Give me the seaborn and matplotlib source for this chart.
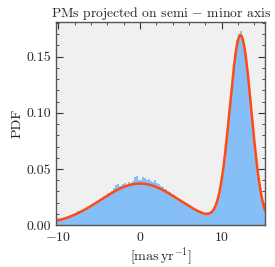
import numpy as np
import pandas as pd
import matplotlib
matplotlib.use("Agg")
import matplotlib.pyplot as plt
import seaborn as sns
from matplotlib.ticker import MultipleLocator, FormatStrFormatter

# histogram of projected PMs (bin width 0.25 mas/yr, from -10.25 to 15.25)
bin_lo, bin_hi = -10.25, 15.25
hist_pdf = [
    0.0042, 0.0043, 0.0052, 0.0056, 0.0060, 0.0070, 0.0072, 0.0083, 0.0090, 0.0098,
    0.0128, 0.0110, 0.0121, 0.0135, 0.0141, 0.0156, 0.0166, 0.0178, 0.0192, 0.0205,
    0.0214, 0.0229, 0.0241, 0.0258, 0.0262, 0.0284, 0.0290, 0.0305, 0.0330, 0.0355,
    0.0362, 0.0350, 0.0366, 0.0372, 0.0358, 0.0384, 0.0371, 0.0392, 0.0428, 0.0436,
    0.0405, 0.0398, 0.0430, 0.0415, 0.0402, 0.0412, 0.0395, 0.0380, 0.0402, 0.0375,
    0.0362, 0.0352, 0.0336, 0.0320, 0.0306, 0.0292, 0.0276, 0.0268, 0.0250, 0.0240,
    0.0225, 0.0212, 0.0200, 0.0184, 0.0176, 0.0162, 0.0150, 0.0144, 0.0130, 0.0122,
    0.0112, 0.0108, 0.0104, 0.0110, 0.0114, 0.0118, 0.0136, 0.0172, 0.0210, 0.0262,
    0.0340, 0.0445, 0.0590, 0.0770, 0.0955, 0.1160, 0.1345, 0.1520, 0.1650, 0.1700,
    0.1725, 0.1660, 0.1550, 0.1410, 0.1230, 0.1030, 0.0830, 0.0650, 0.0500, 0.0365,
    0.0262, 0.0180,
]

# two-component gaussian model (mean, sigma, weight)
comp_mu = [0.0, 12.3]
comp_sigma = [4.8, 1.32]
comp_weight = [0.445, 0.555]

edges = np.linspace(bin_lo, bin_hi, len(hist_pdf) + 1)
centers = 0.5 * (edges[:-1] + edges[1:])
hist_df = pd.DataFrame({"pm": centers, "pdf": hist_pdf})

xs = np.linspace(-10.25, 15.3, 400)
model = np.zeros_like(xs)
for mu, sg, w in zip(comp_mu, comp_sigma, comp_weight):
    model += w * np.exp(-0.5 * ((xs - mu) / sg) ** 2) / (sg * np.sqrt(2 * np.pi))
model_df = pd.DataFrame({"pm": xs, "pdf": model})

sns.set_style("ticks")
plt.rcParams.update({
    "font.family": "serif",
    "font.serif": ["cmr10"],
    "mathtext.fontset": "cm",
    "axes.formatter.use_mathtext": True,
    "axes.unicode_minus": True,
    "font.size": 10.2,
})

fig = plt.figure(figsize=(2.75, 2.67), dpi=100)
ax = fig.add_axes([0.204, 0.157, 0.76, 0.761])
ax.set_facecolor("#f0f0f0")

sns.histplot(data=hist_df, x="pm", weights="pdf", bins=edges.tolist(), stat="count",
             color="#86bff7", edgecolor="none", alpha=1.0, linewidth=0, ax=ax)
sns.lineplot(data=model_df, x="pm", y="pdf", color="#ff4a12", linewidth=1.8, ax=ax)

ax.set_xlim(-10.25, 15.3)
ax.set_ylim(0, 0.181)
ax.xaxis.set_major_locator(MultipleLocator(10))
ax.xaxis.set_minor_locator(MultipleLocator(2))
ax.yaxis.set_major_locator(MultipleLocator(0.05))
ax.yaxis.set_minor_locator(MultipleLocator(0.01))
ax.yaxis.set_major_formatter(FormatStrFormatter("%.2f"))
ax.tick_params(which="both", direction="in", top=True, right=True, color="#333333",
               labelsize=10)
ax.tick_params(which="major", length=5, width=0.8)
ax.tick_params(axis="x", which="major", pad=4)
ax.tick_params(axis="y", which="major", pad=3.5)
ax.tick_params(which="minor", length=2.5, width=0.6)
for s in ax.spines.values():
    s.set_color("#555555")
    s.set_linewidth(1.0)

ax.set_title(r"PMs projected on semi $-$ minor axis", fontsize=9.8, pad=3)
ax.set_xlabel(r"$[\mathrm{mas\,yr^{-1}}]$", labelpad=1)
ax.set_ylabel("PDF", labelpad=2)

fig.savefig("out.png", dpi=100)
